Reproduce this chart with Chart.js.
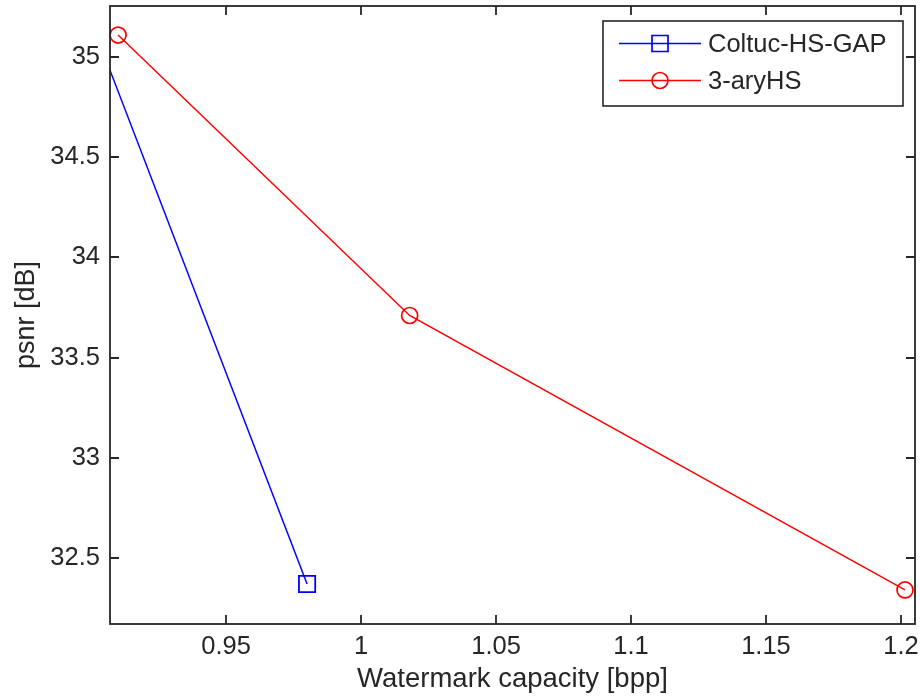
<!DOCTYPE html>
<html>
<head>
<meta charset="utf-8">
<script src="https://cdn.jsdelivr.net/npm/chart.js@4/dist/chart.umd.min.js"></script>
<style>
  html, body { margin: 0; padding: 0; background: #fff; }
  #wrap { width: 920px; height: 696px; }
</style>
</head>
<body>
<div id="wrap"><canvas id="psnrChart" width="920" height="696"></canvas></div>
<script>
// capacity (bpp) vs psnr (dB); first blue point lies left of the visible axis
let coltucX = [0.9, 0.98];
let coltucY = [35.18, 32.37];
let aryX = [0.910, 1.018, 1.2015];
let aryY = [35.11, 33.71, 32.34];

let xTicks = [0.95, 1, 1.05, 1.1, 1.15, 1.2];
let yTicks = [32.5, 33, 33.5, 34, 34.5, 35];

let fontFam = '"Liberation Sans", Arial, Helvetica, sans-serif';
let ink = '#262626';

function toPoints(xs, ys) {
    return xs.map((x, i) => ({ x: x, y: ys[i] }));
}

function noPad(s) {
    s.paddingLeft = 0; s.paddingRight = 0;
    s.paddingTop = 0; s.paddingBottom = 0;
}

// box around the plot, inward ticks on all four sides, legend in top-right corner
const matlabFrame = {
    id: 'matlabFrame',
    afterDraw(chart) {
        const ctx = chart.ctx;
        const a = chart.chartArea;
        const xs = chart.scales.x, ys = chart.scales.y;
        ctx.save();
        ctx.strokeStyle = ink;
        ctx.lineWidth = 1.8;
        ctx.strokeRect(a.left, a.top, a.right - a.left, a.bottom - a.top);
        const tl = 9;
        ctx.beginPath();
        xTicks.forEach(v => {
            const px = Math.round(xs.getPixelForValue(v));
            ctx.moveTo(px, a.bottom); ctx.lineTo(px, a.bottom - tl);
            ctx.moveTo(px, a.top); ctx.lineTo(px, a.top + tl);
        });
        yTicks.forEach(v => {
            const py = Math.round(ys.getPixelForValue(v));
            ctx.moveTo(a.left, py); ctx.lineTo(a.left + tl, py);
            ctx.moveTo(a.right, py); ctx.lineTo(a.right - tl, py);
        });
        ctx.stroke();

        // legend
        const bx = 603, by = 21, bw = 300, bh = 85;
        ctx.fillStyle = '#fff';
        ctx.fillRect(bx, by, bw, bh);
        ctx.lineWidth = 1.6;
        ctx.strokeStyle = ink;
        ctx.strokeRect(bx, by, bw, bh);
        const rows = [43.5, 80.5];
        chart.data.datasets.forEach((ds, i) => {
            const y = rows[i];
            ctx.strokeStyle = ds.borderColor;
            ctx.lineWidth = 1.4;
            ctx.beginPath();
            ctx.moveTo(619, y); ctx.lineTo(701, y);
            ctx.stroke();
            ctx.lineWidth = 1.7;
            ctx.beginPath();
            if (ds.pointStyle === 'rect') {
                ctx.rect(652, y - 8, 16, 16);
            } else {
                ctx.arc(660, y, 8, 0, Math.PI * 2);
            }
            ctx.stroke();
            ctx.fillStyle = ink;
            ctx.font = '25.5px ' + fontFam;
            ctx.textBaseline = 'middle';
            ctx.textAlign = 'left';
            ctx.fillText(ds.label, 708, y + 1);
        });
        ctx.restore();
    }
};

let ctx = document.getElementById('psnrChart').getContext('2d');
let chart = new Chart(ctx, {
    type: 'line',
    data: {
        datasets: [{
            label: 'Coltuc-HS-GAP',
            data: toPoints(coltucX, coltucY),
            borderColor: '#0000ff',
            borderWidth: 1.5,
            pointStyle: 'rect',
            pointRadius: [0, 11.5],
            pointBorderWidth: 1.8,
            pointBorderColor: '#0000ff',
            pointBackgroundColor: 'rgba(0,0,0,0)',
            tension: 0,
            clip: 0
        }, {
            label: '3-aryHS',
            data: toPoints(aryX, aryY),
            borderColor: '#ff0000',
            borderWidth: 1.5,
            pointStyle: 'circle',
            pointRadius: 8,
            pointBorderWidth: 1.7,
            pointBorderColor: '#ff0000',
            pointBackgroundColor: 'rgba(0,0,0,0)',
            tension: 0,
            clip: 12
        }]
    },
    options: {
        responsive: false,
        animation: false,
        events: [],
        layout: { autoPadding: false, padding: { top: 6, right: 5, left: 0, bottom: 0 } },
        plugins: {
            legend: { display: false },
            tooltip: { enabled: false }
        },
        scales: {
            x: {
                type: 'linear',
                min: 0.907,
                max: 1.2052,
                grid: { display: false, drawTicks: false },
                border: { display: false },
                afterBuildTicks: s => { s.ticks = xTicks.map(v => ({ value: v })); },
                afterFit: s => { s.height = 72; noPad(s); },
                ticks: {
                    padding: 8,
                    color: ink,
                    font: { family: fontFam, size: 25.5 },
                    callback: v => String(+Number(v).toFixed(2))
                },
                title: {
                    display: true,
                    text: 'Watermark capacity [bpp]',
                    color: ink,
                    font: { family: fontFam, size: 27.5 },
                    padding: { top: 0, bottom: 0 }
                }
            },
            y: {
                type: 'linear',
                min: 32.17,
                max: 35.255,
                grid: { display: false, drawTicks: false },
                border: { display: false },
                afterBuildTicks: s => { s.ticks = yTicks.map(v => ({ value: v })); },
                afterFit: s => { s.width = 110; noPad(s); },
                ticks: {
                    padding: 10,
                    color: ink,
                    font: { family: fontFam, size: 25.5 },
                    callback: v => String(+Number(v).toFixed(2))
                },
                title: {
                    display: true,
                    text: 'psnr [dB]',
                    color: ink,
                    font: { family: fontFam, size: 27 },
                    padding: { top: 10, bottom: 0 }
                }
            }
        }
    },
    plugins: [matlabFrame]
});
</script>
</body>
</html>
